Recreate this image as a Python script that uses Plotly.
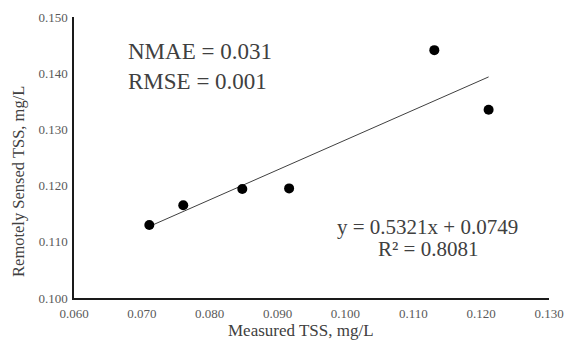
import plotly.graph_objects as go

measured = [0.0711, 0.0761, 0.0848, 0.0917, 0.1131, 0.1211]
sensed = [0.1130, 0.1165, 0.1194, 0.1195, 0.1441, 0.1335]
slope = 0.5321
intercept = 0.0749
x_ticks = [0.060, 0.070, 0.080, 0.090, 0.100, 0.110, 0.120, 0.130]
y_ticks = [0.100, 0.110, 0.120, 0.130, 0.140, 0.150]
x_title = "Measured TSS, mg/L"
y_title = "Remotely Sensed TSS, mg/L"

fit_x = [min(measured), max(measured)]
fit_y = [slope * v + intercept for v in fit_x]

font = "Liberation Serif, Times New Roman, serif"

fig = go.Figure()
fig.add_trace(go.Scatter(x=fit_x, y=fit_y, mode="lines",
                         line=dict(color="#404040", width=1), showlegend=False))
fig.add_trace(go.Scatter(x=measured, y=sensed, mode="markers",
                         marker=dict(color="black", size=10), showlegend=False))

fig.add_annotation(x=0.0677, y=0.1438, xref="x", yref="y", text="NMAE = 0.031",
                   showarrow=False, xanchor="left", yanchor="middle",
                   font=dict(family=font, size=23, color="#404040"))
fig.add_annotation(x=0.0677, y=0.1386, xref="x", yref="y", text="RMSE = 0.001",
                   showarrow=False, xanchor="left", yanchor="middle",
                   font=dict(family=font, size=23, color="#404040"))
fig.add_annotation(x=0.1121, y=0.1126, xref="x", yref="y", text="y = 0.5321x + 0.0749",
                   showarrow=False, xanchor="center", yanchor="middle",
                   font=dict(family=font, size=21, color="#404040"))
fig.add_annotation(x=0.1121, y=0.1087, xref="x", yref="y", text="R² = 0.8081",
                   showarrow=False, xanchor="center", yanchor="middle",
                   font=dict(family=font, size=21, color="#404040"))

# axis titles
fig.add_annotation(x=0.478, y=0, xref="paper", yref="paper", text=x_title,
                   showarrow=False, xanchor="center", yanchor="middle", yshift=-32,
                   font=dict(family=font, size=17, color="#404040"))
fig.add_annotation(x=0, y=0.413, xref="paper", yref="paper", text=y_title,
                   showarrow=False, xanchor="center", yanchor="middle", xshift=-55,
                   textangle=-90,
                   font=dict(family=font, size=16.5, color="#404040"))

fig.update_layout(
    width=568, height=341,
    margin=dict(l=74, r=19, t=17, b=43, autoexpand=False),
    plot_bgcolor="white", paper_bgcolor="white",
    font=dict(family=font),
    xaxis=dict(range=[0.060, 0.130], tickvals=x_ticks,
               ticktext=[f"{v:.3f}" for v in x_ticks],
               showgrid=False, zeroline=False, showline=True, automargin=False,
               linecolor="#1a1a1a", linewidth=1.5,
               ticks="outside", ticklen=3, tickcolor="rgba(0,0,0,0)",
               tickfont=dict(family=font, size=13, color="#595959")),
    yaxis=dict(range=[0.100, 0.150], tickvals=y_ticks,
               ticktext=[f"{v:.3f}" for v in y_ticks],
               showgrid=False, zeroline=False, showline=True, automargin=False,
               linecolor="#1a1a1a", linewidth=1.5,
               ticks="outside", ticklen=2, tickcolor="rgba(0,0,0,0)",
               tickfont=dict(family=font, size=13, color="#595959")),
)

fig.write_html("out.html", config={"displayModeBar": False},
               post_script="document.body.style.margin='0';")
